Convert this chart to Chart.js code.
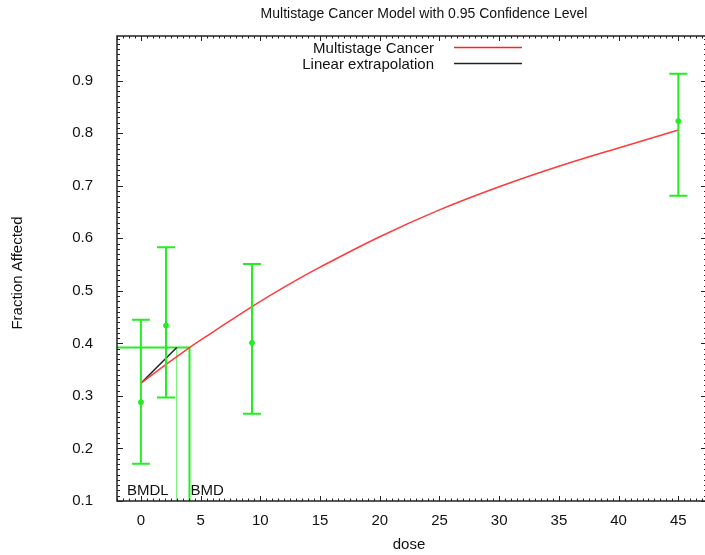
<!DOCTYPE html>
<html>
<head>
<meta charset="utf-8">
<script src="https://cdn.jsdelivr.net/npm/chart.js@4.4.1/dist/chart.umd.min.js"></script>
<style>
  html, body { margin: 0; padding: 0; background: #fff; overflow: hidden; }
  #wrap { position: relative; width: 712px; height: 555px; }
</style>
</head>
<body>
<div id="wrap"><canvas id="bmdChart"></canvas></div>
<script>
// observed data with 95% confidence limits
const doses = [0, 2.1, 9.3, 45];
const observed = [0.288, 0.434, 0.401, 0.823];
const lowerCI = [0.171, 0.297, 0.266, 0.681];
const upperCI = [0.445, 0.583, 0.551, 0.913];

// fitted multistage curve
const curveDoses = [0, 2, 4.07, 6, 9.3, 12, 15, 20, 25, 30, 35, 40, 45];
const curveFraction = [0.324, 0.358, 0.392, 0.421, 0.470, 0.507, 0.545, 0.603, 0.654, 0.698, 0.737, 0.772, 0.806];

// benchmark dose lines
const bmr = 0.392;
const bmd = 4.07;
const bmdl = 3.0;
const linearDoses = [0, bmdl];
const linearFraction = [0.324, bmr];

const xTicks = [0, 5, 10, 15, 20, 25, 30, 35, 40, 45];
const yTicks = [0.1, 0.2, 0.3, 0.4, 0.5, 0.6, 0.7, 0.8, 0.9];

const FONT = "'Liberation Sans', Arial, sans-serif";
const pts = (xs, ys) => xs.map((x, i) => ({ x: x, y: ys[i] }));

// gnuplot-ish frame with inward ticks
const framePlugin = {
  id: "frame",
  afterDraw(chart) {
    const { ctx, chartArea: a, scales: { x, y } } = chart;
    ctx.save();
    ctx.strokeStyle = "#222";
    ctx.lineWidth = 1.5;
    ctx.strokeRect(a.left, a.top, a.right - a.left, a.bottom - a.top);
    ctx.lineWidth = 1;
    ctx.beginPath();
    for (let v = -2; v <= 47.4; v += 0.5) {
      const px = Math.round(x.getPixelForValue(v)) + 0.5;
      const len = Math.abs(v % 5) < 1e-6 ? 5 : 2.5;
      ctx.moveTo(px, a.bottom); ctx.lineTo(px, a.bottom - len);
      ctx.moveTo(px, a.top); ctx.lineTo(px, a.top + len);
    }
    for (let i = 10; i <= 98; i++) {
      const v = i / 100;
      const py = Math.round(y.getPixelForValue(v)) + 0.5;
      const len = i % 10 === 0 ? 6 : 3;
      ctx.moveTo(a.left, py); ctx.lineTo(a.left + len, py);
      ctx.moveTo(a.right, py); ctx.lineTo(a.right - len, py);
    }
    ctx.stroke();
    ctx.restore();
  }
};

const errorBarPlugin = {
  id: "errorBars",
  afterDatasetsDraw(chart) {
    const { ctx, scales: { x, y } } = chart;
    ctx.save();
    ctx.strokeStyle = "#22ee22";
    ctx.lineWidth = 2;
    doses.forEach((d, i) => {
      const px = x.getPixelForValue(d);
      const lo = y.getPixelForValue(lowerCI[i]);
      const hi = y.getPixelForValue(upperCI[i]);
      ctx.beginPath();
      ctx.moveTo(px, lo); ctx.lineTo(px, hi);
      ctx.moveTo(px - 9, lo); ctx.lineTo(px + 9, lo);
      ctx.moveTo(px - 9, hi); ctx.lineTo(px + 9, hi);
      ctx.stroke();
    });
    ctx.restore();
  }
};

const textPlugin = {
  id: "texts",
  afterDraw(chart) {
    const { ctx, scales: { x } } = chart;
    ctx.save();
    ctx.fillStyle = "#111";
    ctx.textBaseline = "middle";
    ctx.font = "14px " + FONT;
    ctx.textAlign = "center";
    ctx.fillText("Multistage Cancer Model with 0.95 Confidence Level", 424, 14);
    ctx.font = "15px " + FONT;
    ctx.fillText("dose", 409, 545);
    // legend
    ctx.textAlign = "right";
    ctx.fillText("Multistage Cancer", 434, 49);
    ctx.fillText("Linear extrapolation", 434, 65);
    ctx.lineWidth = 1.5;
    ctx.strokeStyle = "#ff2020";
    ctx.beginPath(); ctx.moveTo(454, 47.5); ctx.lineTo(522, 47.5); ctx.stroke();
    ctx.strokeStyle = "#222";
    ctx.beginPath(); ctx.moveTo(454, 63.5); ctx.lineTo(522, 63.5); ctx.stroke();
    // BMD labels
    ctx.textAlign = "left";
    ctx.fillText("BMDL", 127, 491);
    ctx.fillText("BMD", x.getPixelForValue(bmd) + 1, 491);
    // y title
    ctx.translate(18, 273);
    ctx.rotate(-Math.PI / 2);
    ctx.textAlign = "center";
    ctx.fillText("Fraction Affected", 0, 0);
    ctx.restore();
  }
};

const ctx = document.getElementById("bmdChart").getContext("2d");

const bmdChart = new Chart(ctx, {
  type: "line",
  data: {
    datasets: [
      {
        label: "Multistage Cancer",
        data: pts(curveDoses, curveFraction),
        borderColor: "#ff3a3a",
        borderWidth: 1.5,
        pointRadius: 0,
        tension: 0.4,
        fill: false,
      },
      {
        label: "Linear extrapolation",
        data: pts(linearDoses, linearFraction),
        borderColor: "#222",
        borderWidth: 1.5,
        pointRadius: 0,
        fill: false,
      },
      {
        label: "BMD",
        data: [{ x: -2, y: bmr }, { x: bmd, y: bmr }, { x: bmd, y: 0.1 }],
        borderColor: "#22ee22",
        borderWidth: 2,
        pointRadius: 0,
        fill: false,
      },
      {
        label: "BMDL",
        data: [{ x: bmdl, y: bmr }, { x: bmdl, y: 0.1 }],
        borderColor: "rgba(30, 230, 30, 0.55)",
        borderWidth: 1.5,
        pointRadius: 0,
        fill: false,
      },
      {
        label: "Observed",
        data: pts(doses, observed),
        showLine: false,
        pointRadius: 2.5,
        pointBackgroundColor: "#22ee22",
        pointBorderColor: "#22ee22",
      },
    ],
  },
  options: {
    responsive: true,
    maintainAspectRatio: false,
    animation: false,
    layout: { padding: { top: 36, right: 4, left: 0, bottom: 0 } },
    plugins: {
      legend: { display: false },
      title: { display: false },
      tooltip: { enabled: false },
    },
    scales: {
      x: {
        type: "linear",
        min: -2,
        max: 47.4,
        grid: { display: false, drawTicks: false },
        border: { display: false },
        afterBuildTicks: (s) => { s.ticks = xTicks.map(v => ({ value: v })); },
        afterFit: (s) => { s.height = 54; },
        ticks: { color: "#111", padding: 11, font: { family: FONT, size: 15 } },
      },
      y: {
        type: "linear",
        min: 0.1,
        max: 0.985,
        grid: { display: false, drawTicks: false },
        border: { display: false },
        afterBuildTicks: (s) => { s.ticks = yTicks.map(v => ({ value: v })); },
        afterFit: (s) => { s.width = 117; },
        ticks: {
          color: "#111",
          padding: 24,
          font: { family: FONT, size: 15 },
          callback: (v) => v.toFixed(1),
        },
      },
    },
  },
  plugins: [framePlugin, errorBarPlugin, textPlugin],
});
</script>
</body>
</html>
